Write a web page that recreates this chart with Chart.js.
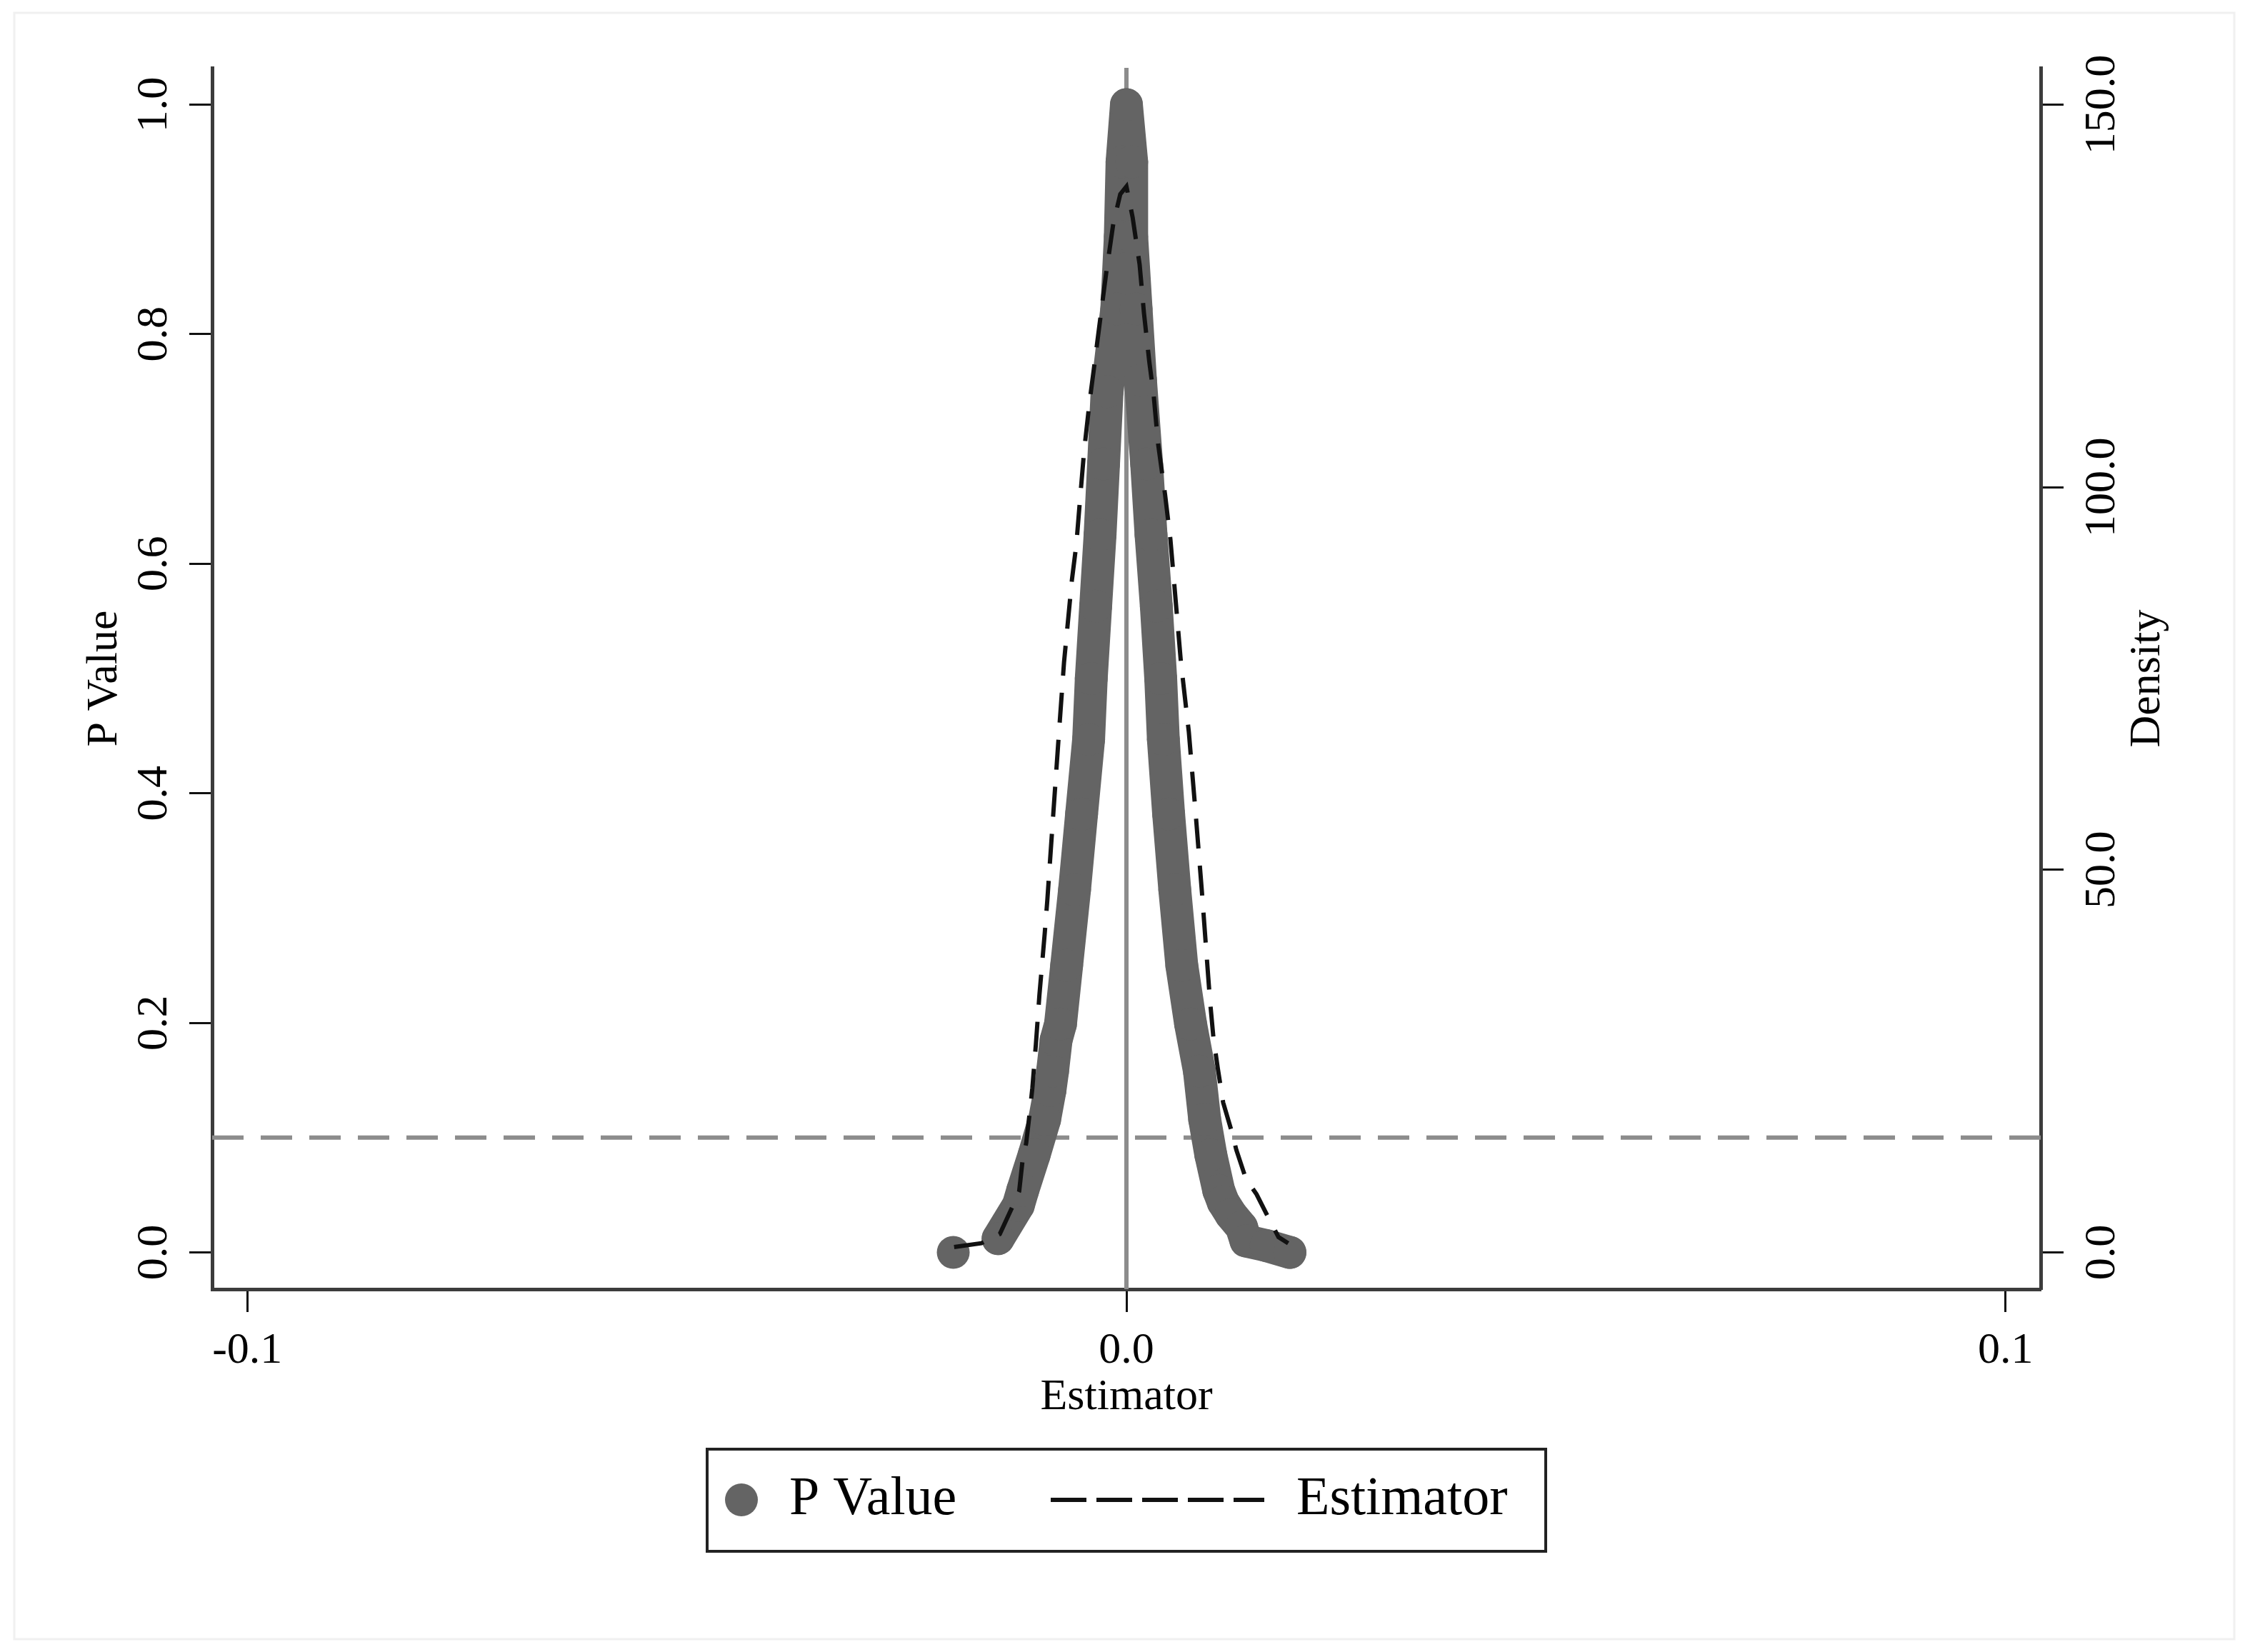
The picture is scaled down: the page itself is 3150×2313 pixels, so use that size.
<!DOCTYPE html>
<html>
<head>
<meta charset="utf-8">
<title>P Value / Estimator</title>
<script src="https://cdn.jsdelivr.net/npm/chart.js@4.4.1/dist/chart.umd.min.js"></script>
<style>
    html, body { margin: 0; padding: 0; background: #fff; }
    .wrap { width: 3150px; height: 2313px; }
</style>
</head>
<body>
<div class="wrap"><canvas id="myChart"></canvas></div>
<script>
// P value of each estimate: left branch bottom -> top, then right branch top -> bottom
var pvalX = [-0.0197, -0.0146, -0.0123, -0.0118, -0.0105, -0.0093, -0.0087, -0.0084, -0.0080, -0.0075,
    -0.0068, -0.0059, -0.0051, -0.0043, -0.0040, -0.0035, -0.0030, -0.0026, -0.0022, -0.0011,
    -0.0007, -0.0005, 0.0000,
    0.0006, 0.0006, 0.0011, 0.0016, 0.0023, 0.0028, 0.0034, 0.0039, 0.0042, 0.0048,
    0.0055, 0.0063, 0.0073, 0.0083, 0.0089, 0.0096, 0.0105, 0.0110, 0.0119, 0.0131,
    0.0136, 0.0159, 0.0186];
var pvalY = [0.000, 0.012, 0.041, 0.054, 0.085, 0.116, 0.141, 0.158, 0.185, 0.199,
    0.250, 0.316, 0.382, 0.447, 0.500, 0.563, 0.625, 0.687, 0.750, 0.822,
    0.885, 0.950, 1.000,
    0.950, 0.885, 0.822, 0.760, 0.687, 0.625, 0.563, 0.500, 0.447, 0.382,
    0.316, 0.250, 0.199, 0.158, 0.116, 0.085, 0.054, 0.044, 0.033, 0.022,
    0.010, 0.006, 0.000];

// density of the estimator (right axis)
var densX = [-0.0196, -0.0165, -0.0144, -0.0130, -0.0122, -0.0118, -0.0114, -0.0110, -0.0107, -0.0103,
    -0.0099, -0.0093, -0.0090, -0.0084, -0.0077, -0.0071, -0.0062, -0.0057, -0.0053, -0.0048,
    -0.0042, -0.0037, -0.0030, -0.0023, -0.0015, -0.0007, 0.0000,
    0.0007, 0.0015, 0.0020, 0.0026, 0.0031, 0.0036, 0.0044, 0.0050, 0.0054, 0.0062,
    0.0071, 0.0079, 0.0086, 0.0090, 0.0095, 0.0099, 0.0104, 0.0110, 0.0120, 0.0125,
    0.0136, 0.0148, 0.0163, 0.0173, 0.0184];
var densY = [0.7, 1.2, 2.4, 5.9, 8.0, 12.2, 14.3, 18.3, 21.5, 27.2,
    33.6, 41.6, 46.0, 56.0, 67.5, 77.1, 87.9, 92.5, 98.1, 104.9,
    111.1, 115.5, 121.8, 128.0, 134.4, 138.3, 139.3,
    135.3, 129.1, 122.7, 116.4, 112.0, 105.7, 99.0, 93.2, 87.9, 77.1,
    68.0, 57.0, 46.9, 40.7, 33.0, 28.0, 24.0, 19.6, 15.7, 13.4,
    9.6, 7.6, 4.2, 2.0, 1.2];

var xTicks = [-0.1, 0.0, 0.1];
var pTicks = [0.0, 0.2, 0.4, 0.6, 0.8, 1.0];
var densTicks = [0, 50, 100, 150];
var pCutoff = 0.1;
var xZero = 0;

var serif = "'Liberation Serif', 'Times New Roman', serif";
var gray = '#646464';

Chart.defaults.font.family = serif;
Chart.defaults.color = '#000';

function toPoints(xs, ys) {
    return xs.map(function(x, i) { return {x: x, y: ys[i]}; });
}

var tickGrid = {
    drawOnChartArea: false,
    drawTicks: true,
    tickLength: 32,
    tickWidth: 3,
    tickColor: '#111'
};
var axisBorder = { display: true, color: '#3c3c3c', width: 5 };
var tickFont = { family: serif, size: 62 };

// gray reference lines, under the data
var refLines = {
    id: 'refLines',
    beforeDatasetsDraw: function(chart) {
        var ctx = chart.ctx, a = chart.chartArea;
        var xs = chart.scales.x, ys = chart.scales.y;
        ctx.save();
        ctx.strokeStyle = '#8c8c8c';
        ctx.lineWidth = 6;
        var px = xs.getPixelForValue(xZero);
        ctx.beginPath();
        ctx.moveTo(px, a.top);
        ctx.lineTo(px, a.bottom);
        ctx.stroke();
        var py = ys.getPixelForValue(pCutoff);
        ctx.setLineDash([44, 24]);
        ctx.beginPath();
        ctx.moveTo(a.left, py);
        ctx.lineTo(a.right, py);
        ctx.stroke();
        ctx.restore();
    }
};

// right axis title reads bottom to top, and the boxed legend under the axis
var extras = {
    id: 'extras',
    beforeDraw: function(chart) {
        var ctx = chart.ctx;
        ctx.save();
        ctx.fillStyle = '#fff';
        ctx.fillRect(0, 0, chart.width, chart.height);
        ctx.strokeStyle = '#f0f0f0';
        ctx.lineWidth = 3;
        ctx.strokeRect(20, 18, chart.width - 42, chart.height - 36);
        ctx.restore();
    },
    afterDraw: function(chart) {
        var ctx = chart.ctx, a = chart.chartArea;
        var ds = chart.data.datasets;
        ctx.save();
        ctx.fillStyle = '#000';
        ctx.font = '62px ' + serif;
        ctx.textAlign = 'center';
        ctx.textBaseline = 'middle';
        ctx.translate(a.right + 150, (a.top + a.bottom) / 2);
        ctx.rotate(-Math.PI / 2);
        ctx.fillText('Density', 0, 0);
        ctx.restore();

        var cx = (a.left + a.right) / 2;
        var top = a.bottom + 224;
        var cy = top + 71;
        ctx.save();
        ctx.strokeStyle = '#222';
        ctx.lineWidth = 4;
        ctx.strokeRect(cx - 587, top, 1174, 143);

        ctx.fillStyle = ds[0].pointBackgroundColor;
        ctx.beginPath();
        ctx.arc(cx - 539, cy, 23, 0, Math.PI * 2);
        ctx.fill();

        ctx.strokeStyle = ds[1].borderColor;
        ctx.lineWidth = 6;
        ctx.setLineDash([50, 14]);
        ctx.beginPath();
        ctx.moveTo(cx - 106, cy);
        ctx.lineTo(cx + 193, cy);
        ctx.stroke();

        ctx.fillStyle = '#000';
        ctx.font = '76px ' + serif;
        ctx.textAlign = 'left';
        ctx.textBaseline = 'middle';
        ctx.fillText(ds[0].label, cx - 472, cy);
        ctx.fillText(ds[1].label, cx + 238, cy);
        ctx.restore();
    }
};

var ctx = document.getElementById('myChart').getContext('2d');

var myChart = new Chart(ctx, {
    type: 'scatter',
    data: {
        datasets: [{
            label: 'P Value',
            data: toPoints(pvalX, pvalY),
            yAxisID: 'y',
            order: 2,
            showLine: true,
            tension: 0,
            borderColor: gray,
            borderWidth: 46,
            borderCapStyle: 'round',
            borderJoinStyle: 'round',
            pointRadius: 23,
            pointHoverRadius: 23,
            pointBorderWidth: 0,
            pointBackgroundColor: gray,
            segment: {
                // isolated tail points are not joined
                borderColor: function(c) {
                    return Math.abs(c.p1.x - c.p0.x) > 50 ? 'rgba(0,0,0,0)' : undefined;
                }
            }
        }, {
            label: 'Estimator',
            data: toPoints(densX, densY),
            yAxisID: 'y1',
            order: 1,
            showLine: true,
            tension: 0,
            borderColor: '#111',
            borderWidth: 6,
            borderDash: [42, 24],
            pointRadius: 0,
            pointHoverRadius: 0,
            fill: false
        }]
    },
    options: {
        responsive: true,
        maintainAspectRatio: false,
        devicePixelRatio: 1,
        animation: false,
        layout: { padding: { top: 95, left: 0, right: 0, bottom: 318 } },
        plugins: {
            legend: { display: false },
            tooltip: { enabled: false }
        },
        scales: {
            x: {
                type: 'linear',
                min: -0.104,
                max: 0.104,
                afterBuildTicks: function(s) { s.ticks = xTicks.map(function(v) { return {value: v}; }); },
                afterFit: function(s) { s.height = 190; },
                ticks: {
                    font: tickFont,
                    color: '#000',
                    padding: 18,
                    maxRotation: 0,
                    autoSkip: false,
                    callback: function(v) { return v.toFixed(1); }
                },
                grid: tickGrid,
                border: axisBorder,
                title: {
                    display: true,
                    text: 'Estimator',
                    font: tickFont,
                    color: '#000',
                    padding: { top: 0, bottom: 1 }
                }
            },
            y: {
                type: 'linear',
                position: 'left',
                min: -0.032,
                max: 1.032,
                afterBuildTicks: function(s) { s.ticks = pTicks.map(function(v) { return {value: v}; }); },
                afterFit: function(s) { s.width = 297; },
                ticks: {
                    font: tickFont,
                    color: '#000',
                    minRotation: 90,
                    maxRotation: 90,
                    crossAlign: 'center',
                    padding: 10,
                    autoSkip: false,
                    callback: function(v) { return v.toFixed(1); }
                },
                grid: tickGrid,
                border: axisBorder,
                title: {
                    display: true,
                    text: 'P Value',
                    font: tickFont,
                    color: '#000',
                    padding: { top: 110, bottom: 0 }
                }
            },
            y1: {
                type: 'linear',
                position: 'right',
                min: -4.8,
                max: 154.8,
                afterBuildTicks: function(s) { s.ticks = densTicks.map(function(v) { return {value: v}; }); },
                afterFit: function(s) { s.width = 293; },
                ticks: {
                    font: tickFont,
                    color: '#000',
                    minRotation: 90,
                    maxRotation: 90,
                    crossAlign: 'center',
                    padding: -15,
                    autoSkip: false,
                    callback: function(v) { return v.toFixed(1); }
                },
                grid: tickGrid,
                border: axisBorder,
                title: { display: false }
            }
        }
    },
    plugins: [refLines, extras]
});
</script>
</body>
</html>
